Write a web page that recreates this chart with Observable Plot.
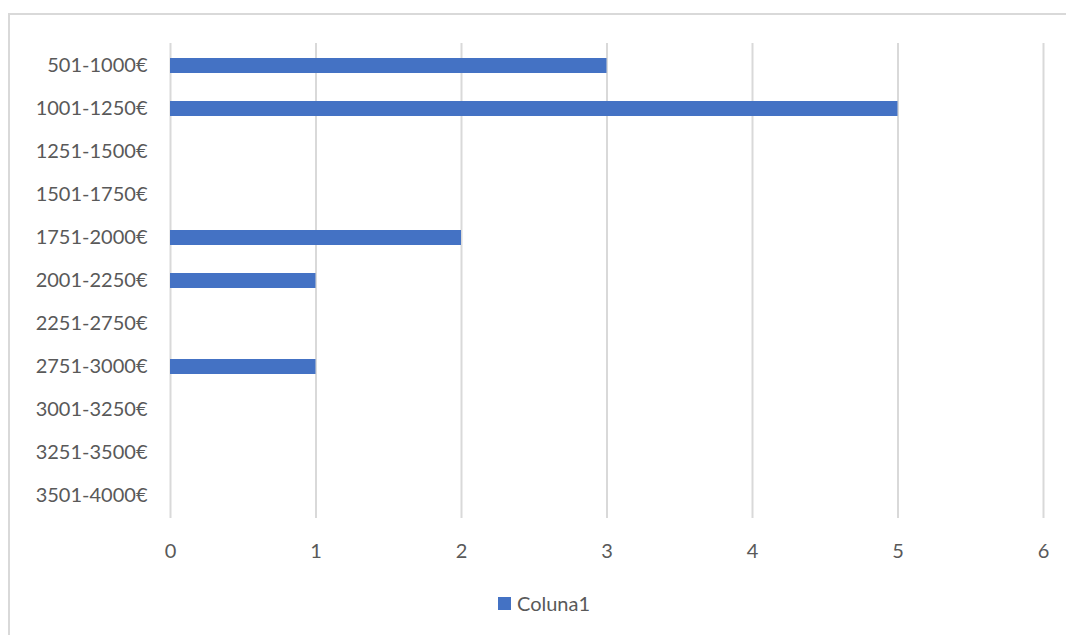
<!DOCTYPE html>
<html>
<head>
<meta charset="utf-8">
<script src="https://cdn.jsdelivr.net/npm/d3@7"></script>
<script src="https://cdn.jsdelivr.net/npm/@observablehq/plot@0.6"></script>
<style>
  html, body { margin: 0; padding: 0; background: #fff; }
  body { width: 1066px; height: 635px; position: relative; overflow: hidden; font-family: Lato, "Open Sans", sans-serif; }
  #frame { position: absolute; left: 8px; top: 13px; width: 1080px; height: 640px; border: 2px solid #d9d9d9; box-sizing: border-box; }
  #chart { position: absolute; left: 0; top: 0; }
  #legend { position: absolute; left: 498px; top: 591px; display: flex; align-items: center; font-size: 20px; color: #595959; }
  #legend .sw { width: 13px; height: 13px; background: #4472c4; margin-right: 6px; }
</style>
</head>
<body>
<div id="frame"></div>
<div id="chart"></div>
<div id="legend"><div class="sw"></div><span id="legendLabel"></span></div>
<script>
const categories = ["501-1000€", "1001-1250€", "1251-1500€", "1501-1750€", "1751-2000€", "2001-2250€", "2251-2750€", "2751-3000€", "3001-3250€", "3251-3500€", "3501-4000€"];
const values = [3, 5, 0, 0, 2, 1, 0, 1, 0, 0, 0];
const seriesName = "Coluna1";
const xTicks = [0, 1, 2, 3, 4, 5, 6];

const data = categories.map((c, i) => ({category: c, value: values[i]}));
document.getElementById("legendLabel").textContent = seriesName;

const chart = Plot.plot({
  width: 1066,
  height: 580,
  marginTop: 43,
  marginBottom: 62,
  marginLeft: 170,
  marginRight: 23,
  style: {fontFamily: "Lato, 'Open Sans', sans-serif", fontSize: "20px", color: "#595959", background: "transparent"},
  x: {domain: [0, 6], ticks: xTicks, tickFormat: d3.format("d"), tickSize: 0, tickPadding: 25, label: null},
  y: {domain: categories, paddingInner: 0.65, paddingOuter: 0.325, tickSize: 0, tickPadding: 23, label: null},
  marks: [
    Plot.ruleX(xTicks, {stroke: "#d9d9d9", strokeWidth: 2, strokeOpacity: 1}),
    Plot.barX(data, {x: "value", y: "category", fill: "#4472c4"})
  ]
});
document.getElementById("chart").appendChild(chart);
</script>
</body>
</html>
